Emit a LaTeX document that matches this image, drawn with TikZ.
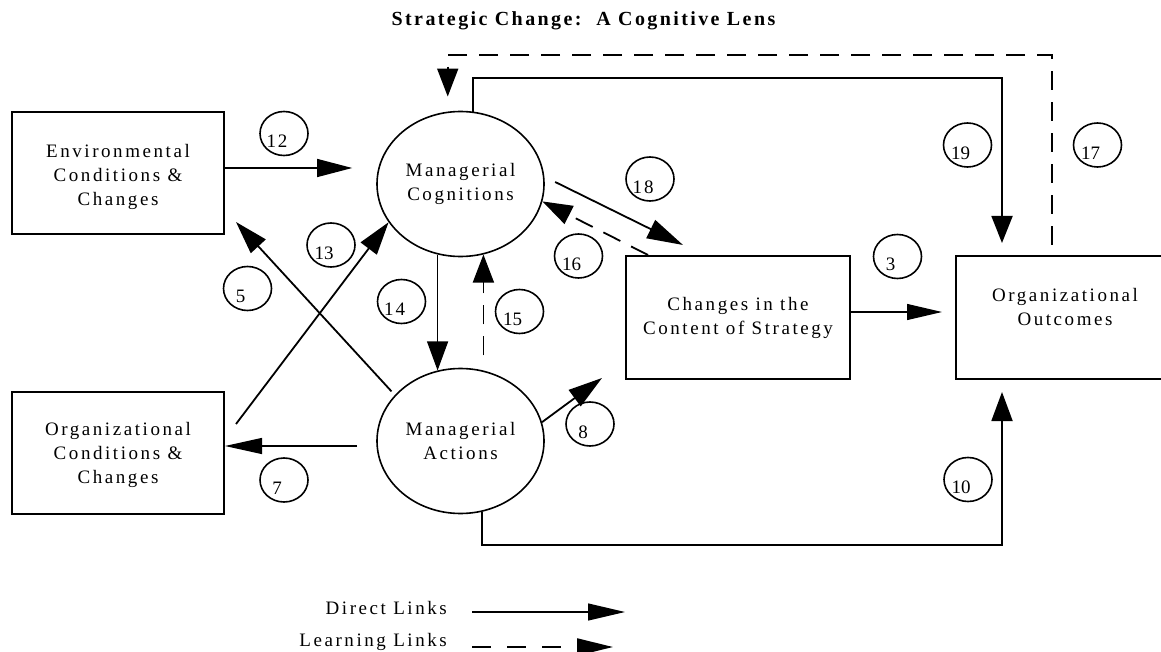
\documentclass[tikz,border=0pt]{standalone}
\usepackage{fontspec}
\setmainfont{Liberation Serif}
\newfontfamily\lblfont{Liberation Serif}[LetterSpace=13.5]
\newfontfamily\titlefont{Liberation Serif}[LetterSpace=12]
\newfontfamily\numfont{Liberation Serif}
\usetikzlibrary{arrows.meta,shapes.geometric}

\begin{document}
\begin{tikzpicture}[x=1pt,y=-1pt,
  every node/.style={inner sep=0pt},
  txt/.style={font=\lblfont\fontsize{19}{24}\selectfont, align=center},
  box/.style={txt, draw, line width=2pt, minimum width=212pt, minimum height=122pt},
  oval/.style={txt, draw, ellipse, line width=1.6pt, minimum width=167pt, minimum height=145pt},
  badge/.style={draw, ellipse, line width=1.6pt, minimum width=48pt, minimum height=44pt},
  num/.style={font=\numfont\fontsize{19}{19}\selectfont, xshift=-7pt, yshift=-8pt},
  link/.style={line width=1.8pt},
  fine/.style={line width=1.2pt},
  learn/.style={line width=1.8pt, dash pattern=on 19pt off 12pt},
  hd/.style 2 args={-{Triangle[length=#1pt,width=#2pt]}}
]
\useasboundingbox (0,0) rectangle (1161,652);

% title
\node[font=\titlefont\bfseries\fontsize{20}{24}\selectfont, anchor=base] (title) at (583.5,26)
  {Strategic Change:\ \ A Cognitive Lens};

% boxes
\node[box, label={[txt, yshift=-4pt]center:Environmental\\Conditions \&\\Changes}] (env) at (118,173) {};
\node[box, label={[txt, yshift=-2pt]center:Organizational\\Conditions \&\\Changes}] (org) at (118,452.5) {};
\node[box, minimum width=224pt, minimum height=123pt] (chg) at (738,317.5)
  {Changes in the\\Content of Strategy};
\node[box, minimum width=218pt, minimum height=123pt,
  label={[txt, yshift=10pt]center:Organizational\\Outcomes}] (out) at (1065,317.5) {};

% managerial ellipses
\node[oval] (cog) at (460.5,184) {Managerial\\Cognitions};
\node[oval] (act) at (460.5,441) {Managerial\\Actions};

% numbered link badges
\node[badge, label={[num]center:1\kern2pt 2}] (b12) at (284,133.5) {};
\node[badge, label={[num]center:13}] (b13) at (331,245) {};
\node[badge, label={[num]center:5}] (b5) at (247.5,288.5) {};
\node[badge, label={[num]center:1\kern2pt 8}] (b18) at (650,179) {};
\node[badge, label={[num]center:16}] (b16) at (578.5,256) {};
\node[badge, label={[num]center:19}] (b19) at (967.5,145) {};
\node[badge, label={[num]center:17}] (b17) at (1097.5,145) {};
\node[badge, label={[num]center:3}] (b3) at (897.5,256.5) {};
\node[badge, label={[num]center:1\kern2pt 4}] (b14) at (401.5,301.5) {};
\node[badge, label={[num]center:15}] (b15) at (519.5,311.5) {};
\node[badge, label={[num]center:8}] (b8) at (590,424) {};
\node[badge, label={[num]center:7}] (b7) at (284,480) {};
\node[badge, label={[num]center:10}] (b10) at (968,479.5) {};

% free ends and bends
\coordinate (y12) at (0,168);
\coordinate (s13) at (236,424);
\coordinate (t5) at (236,222);
\coordinate (y7) at (0,446);
\coordinate (x16) at (648,0);
\coordinate (t18) at (683,245);
\coordinate (t8) at (602,378);
\coordinate (y3) at (0,312);
\coordinate (c19) at (1002,78);
\coordinate (c17) at (1052,55);
\coordinate (c10) at (1002,545);

% direct links
\draw[fine, hd={35}{18}, shorten >=24pt] (env.east |- y12) -- (cog.west |- y12);
\draw[link, hd={33}{20}] (s13) -- (cog.208);
\draw[link, hd={33}{20}, shorten <=5pt] (act.145) -- (t5);
\draw[fine, hd={37}{16}, shorten <=19pt] (act.west |- y7) -- (org.east |- y7);
\draw[fine, hd={29}{21}] (cog.-108) -- (act.108);
\draw[link, hd={36}{20}, shorten <=12pt] (cog.5) -- (t18);
\draw[link, hd={34}{20}] (act.13) -- (t8);
\draw[fine, hd={35}{16}, shorten >=13pt] (chg.east |- y3) -- (out.west |- y3);
\draw[link, hd={27}{21}, shorten >=12pt] (cog.80) |- (c19) -- (c19 |- out.north);
\draw[link, hd={29}{21}, shorten >=12pt] (act.-73) |- (c10) -- (c10 |- out.south);

% learning links
\draw[learn, hd={28}{21}, shorten <=15pt] (act.72) -- (cog.-72);
\draw[learn, hd={30}{20}] (chg.north west -| x16) -- (cog.-12);
\draw[learn, hd={28}{21}, shorten <=10pt, shorten >=15pt] (out.north -| c17) -- (c17) -| (cog.100);

% legend
\node[txt, anchor=base east] (ldir) at (447,614) {Direct Links};
\node[txt, anchor=base east] (llearn) at (447,646) {Learning Links};
\coordinate (ld0) at (472,612);
\coordinate (ld1) at (625,612);
\coordinate (ll0) at (472,647);
\coordinate (ll1) at (613,647);
\draw[fine, hd={37}{17}] (ld0) -- (ld1);
\draw[line width=2.2pt, dash pattern=on 19pt off 16pt, hd={36}{17}] (ll0) -- (ll1);
\end{tikzpicture}
\end{document}
